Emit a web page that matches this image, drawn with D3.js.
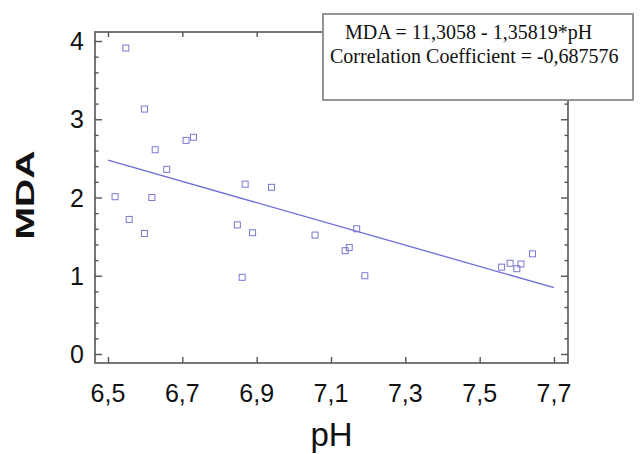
<!DOCTYPE html>
<html><head><meta charset="utf-8">
<script src="https://cdn.jsdelivr.net/npm/d3@7"></script>
<style>body{margin:0;background:#fff}svg{display:block}</style>
</head><body>
<svg id="c" width="640" height="454"></svg>
<script>
const phValues  = [6.548,6.598,6.627,6.710,6.730,6.658,6.519,6.618,6.557,6.598,6.869,6.940,6.848,6.889,6.861,7.057,7.169,7.138,7.149,7.191,7.559,7.582,7.600,7.611,7.642];
const mdaValues = [3.91,3.13,2.61,2.73,2.77,2.36,2.01,2.00,1.72,1.54,2.17,2.13,1.65,1.55,0.98,1.52,1.60,1.32,1.36,1.00,1.11,1.16,1.09,1.15,1.28];
const xTicks = [6.5,6.7,6.9,7.1,7.3,7.5,7.7];
const yTicks = [0,1,2,3,4];
const yMinor = [0.2,0.4,0.6,0.8,1.2,1.4,1.6,1.8,2.2,2.4,2.6,2.8,3.2,3.4,3.6,3.8];
const fit = {a:11.3058, b:-1.35819, range:[6.5,7.7]};
const legendLines = ["MDA = 11,3058 - 1,35819*pH","Correlation Coefficient = -0,687576"];

const svg = d3.select("#c");
const L=95,R=568,T=32,B=363;
const x = d3.scaleLinear().domain([6.5,7.7]).range([108,554]);
const y = d3.scaleLinear().domain([0,4]).range([354,41]);
const axisCol="#555";

// frame
svg.append("rect").attr("x",L).attr("y",T).attr("width",R-L).attr("height",B-T)
  .attr("fill","none").attr("stroke",axisCol).attr("stroke-width",1.6);

// ticks using d3 axes
const g=svg.append("g");
g.append("g").attr("transform",`translate(0,${B})`)
  .call(d3.axisTop(x).tickValues(xTicks).tickSize(6).tickFormat(""))
  .call(s=>s.select(".domain").remove());
g.append("g").attr("transform",`translate(0,${T})`)
  .call(d3.axisBottom(x).tickValues(xTicks).tickSize(5).tickFormat(""))
  .call(s=>s.select(".domain").remove());
g.append("g").attr("transform",`translate(${L},0)`)
  .call(d3.axisRight(y).tickValues(yTicks).tickSize(7).tickFormat(""))
  .call(s=>s.select(".domain").remove());
g.append("g").attr("transform",`translate(${L},0)`)
  .call(d3.axisRight(y).tickValues(yMinor).tickSize(3.5).tickFormat(""))
  .call(s=>s.select(".domain").remove());
g.append("g").attr("transform",`translate(${R},0)`)
  .call(d3.axisLeft(y).tickValues(yTicks).tickSize(7).tickFormat(""))
  .call(s=>s.select(".domain").remove());
g.append("g").attr("transform",`translate(${R},0)`)
  .call(d3.axisLeft(y).tickValues(yMinor).tickSize(3.5).tickFormat(""))
  .call(s=>s.select(".domain").remove());
g.selectAll("line").attr("stroke",axisCol).attr("stroke-width",1.4);

// tick labels
svg.append("g").selectAll("text").data(xTicks).join("text")
  .attr("x",d=>x(d)).attr("y",402).attr("text-anchor","middle")
  .attr("font-family","Liberation Sans, Arial, sans-serif").attr("font-size",25).attr("fill","#111")
  .text(d=>String(d).replace(".",","));
svg.append("g").selectAll("text").data(yTicks).join("text")
  .attr("x",84).attr("y",d=>y(d)+9).attr("text-anchor","end")
  .attr("font-family","Liberation Sans, Arial, sans-serif").attr("font-size",25).attr("fill","#111")
  .text(d=>d);

// axis titles
svg.append("text").attr("x",(L+R)/2).attr("y",446).attr("text-anchor","middle")
  .attr("font-family","Liberation Sans, Arial, sans-serif").attr("font-size",33).attr("fill","#111").text("pH");
svg.append("text").attr("transform","translate(34,195) rotate(-90)").attr("text-anchor","middle")
  .attr("font-family","Liberation Sans, Arial, sans-serif").attr("font-size",25).attr("font-weight","bold")
  .attr("textLength",89).attr("lengthAdjust","spacingAndGlyphs").attr("fill","#111").text("MDA");

// regression line
svg.append("line")
  .attr("x1",x(fit.range[0])).attr("y1",y(fit.a+fit.b*fit.range[0]))
  .attr("x2",x(fit.range[1])).attr("y2",y(fit.a+fit.b*fit.range[1]))
  .attr("stroke","#6c6cd8").attr("stroke-width",1.3);

// points
svg.append("g").selectAll("rect").data(phValues.map((p,i)=>[p,mdaValues[i]])).join("rect")
  .attr("x",d=>x(d[0])-3).attr("y",d=>y(d[1])-3).attr("width",6).attr("height",6)
  .attr("fill","none").attr("stroke","#7878d0").attr("stroke-width",1);

// legend box
svg.append("rect").attr("x",323).attr("y",14).attr("width",310).attr("height",86)
  .attr("fill","#fff").attr("stroke","#8a8a8a").attr("stroke-width",1.8);
svg.append("text").attr("x",345).attr("y",39).attr("font-family","Liberation Serif, Times New Roman, serif")
  .attr("font-size",20).attr("fill","#111").text(legendLines[0]);
svg.append("text").attr("x",330).attr("y",63).attr("font-family","Liberation Serif, Times New Roman, serif")
  .attr("font-size",20).attr("fill","#111").text(legendLines[1]);
</script>
</body></html>
